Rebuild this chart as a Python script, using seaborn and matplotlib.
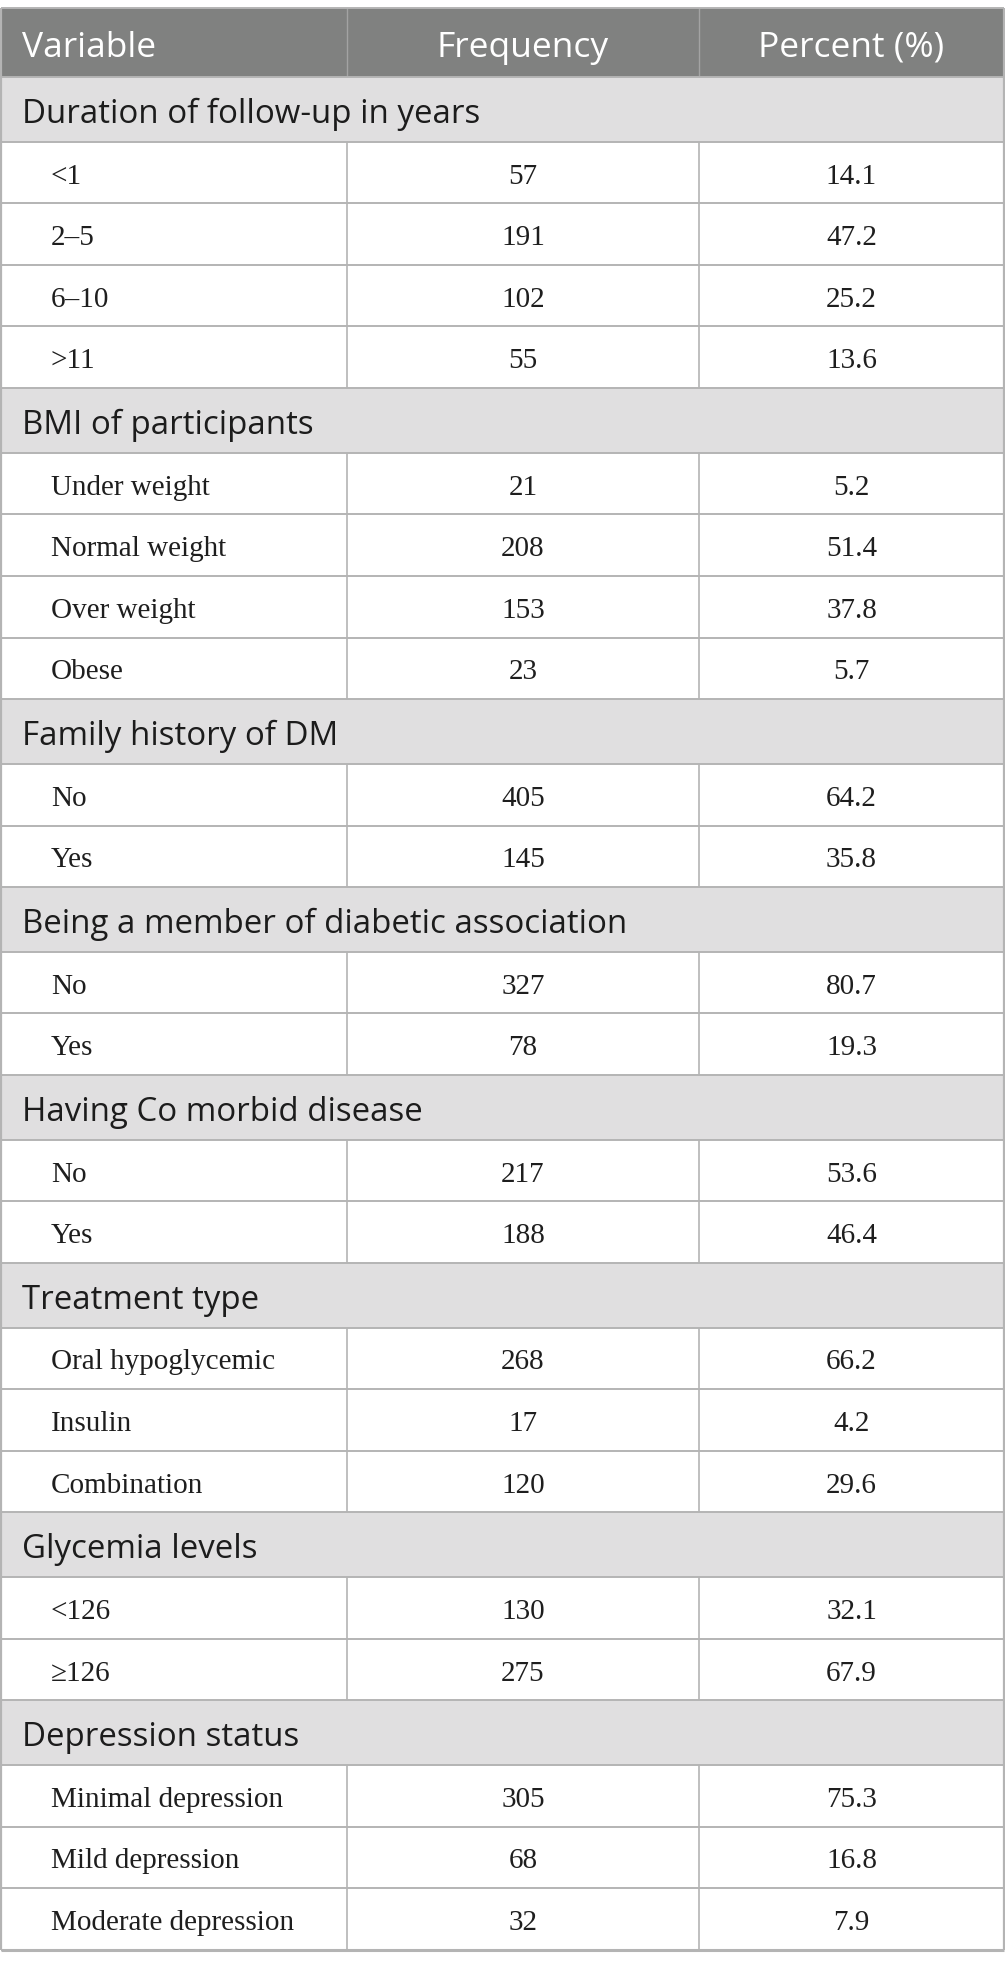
import matplotlib
matplotlib.use("Agg")
import matplotlib.pyplot as plt
import seaborn as sns
from matplotlib.patches import Rectangle

# ---------------- data ----------------
header_labels = ["Variable", "Frequency", "Percent (%)"]

group_titles = [
    "Duration of follow-up in years",
    "BMI of participants",
    "Family history of DM",
    "Being a member of diabetic association",
    "Having Co morbid disease",
    "Treatment type",
    "Glycemia levels",
    "Depression status",
]
group_categories = [
    ["<1", "2\u20135", "6\u201310", ">11"],
    ["Under weight", "Normal weight", "Over weight", "Obese"],
    ["No", "Yes"],
    ["No", "Yes"],
    ["No", "Yes"],
    ["Oral hypoglycemic", "Insulin", "Combination"],
    ["<126", "\u2265126"],
    ["Minimal depression", "Mild depression", "Moderate depression"],
]
group_frequencies = [
    [57, 191, 102, 55],
    [21, 208, 153, 23],
    [405, 145],
    [327, 78],
    [217, 188],
    [268, 17, 120],
    [130, 275],
    [305, 68, 32],
]
group_percents = [
    ["14.1", "47.2", "25.2", "13.6"],
    ["5.2", "51.4", "37.8", "5.7"],
    ["64.2", "35.8"],
    ["80.7", "19.3"],
    ["53.6", "46.4"],
    ["66.2", "4.2", "29.6"],
    ["32.1", "67.9"],
    ["75.3", "16.8", "7.9"],
]

# ---------------- layout / style ----------------
W, H = 1005, 1967
TOP = 8.0
HEADER_H = 69.0
GROUP_H = 64.7
DATA_H = 61.6
COL_X = [0.5, 347.0, 699.0, 1004.0]
HEADER_BG = "#808180"
GROUP_BG = "#e0dfe0"
LINE_C = "#b4b4b4"
HEAD_LINE_C = "#a3a3a3"
HEAD_FS = 25.5
GROUP_FS = 23.8
DATA_FS = 21.0

sns.set_theme(style="white")
plt.rcParams["font.family"] = ["Open Sans", "DejaVu Sans"]

fig = plt.figure(figsize=(W / 100, H / 100), dpi=100)
ax = fig.add_axes([0, 0, 1, 1])
ax.set_xlim(0, W)
ax.set_ylim(H, 0)
ax.axis("off")

sans = ["Open Sans", "DejaVu Sans"]
serif = ["Liberation Serif", "DejaVu Serif"]

col_centers = [(COL_X[1] + COL_X[2]) / 2, (COL_X[2] + COL_X[3]) / 2]

# header
ax.add_patch(Rectangle((COL_X[0], TOP), COL_X[3] - COL_X[0], HEADER_H,
                       facecolor=HEADER_BG, edgecolor="none", zorder=1))
hmid = TOP + HEADER_H / 2
hb = hmid + 14.5
ax.text(22, hb, header_labels[0], family=sans, fontsize=HEAD_FS,
        color="white", ha="left", va="baseline", zorder=3)
ax.text(col_centers[0], hb, header_labels[1], family=sans, fontsize=HEAD_FS,
        color="white", ha="center", va="baseline", zorder=3)
ax.text(col_centers[1], hb, header_labels[2], family=sans, fontsize=HEAD_FS,
        color="white", ha="center", va="baseline", zorder=3)
for x in COL_X[1:3]:
    ax.vlines(x, TOP, TOP + HEADER_H, color=HEAD_LINE_C, lw=1.0, zorder=2)

y = TOP + HEADER_H
hlines = [TOP, y]
for title, cats, freqs, pcts in zip(group_titles, group_categories,
                                    group_frequencies, group_percents):
    ax.add_patch(Rectangle((COL_X[0], y), COL_X[3] - COL_X[0], GROUP_H,
                           facecolor=GROUP_BG, edgecolor="none", zorder=1))
    ax.text(22, y + GROUP_H / 2 + 13.5, title, family=sans, fontsize=GROUP_FS,
            color="#1c1c1c", ha="left", va="baseline", zorder=3)
    y += GROUP_H
    hlines.append(y)
    for cat, f, p in zip(cats, freqs, pcts):
        mid = y + DATA_H / 2
        ax.text(51, mid + 11, cat, family=serif, fontsize=DATA_FS,
                color="#1e1e1e", ha="left", va="baseline", zorder=3)
        ax.text(col_centers[0], mid + 11, str(f), family=serif, fontsize=DATA_FS,
                color="#1e1e1e", ha="center", va="baseline", zorder=3)
        ax.text(col_centers[1], mid + 11, p, family=serif, fontsize=DATA_FS,
                color="#1e1e1e", ha="center", va="baseline", zorder=3)
        for x in COL_X[1:3]:
            ax.vlines(x, y, y + DATA_H, color=LINE_C, lw=1.2, zorder=2)
        y += DATA_H
        hlines.append(y)

ax.hlines(hlines[1:], COL_X[0], COL_X[3], color=LINE_C, lw=1.4, zorder=2)
ax.hlines(hlines[0], COL_X[0], COL_X[3], color=LINE_C, lw=1.4, zorder=2)
ax.hlines(hlines[-1], COL_X[0], COL_X[3], color=LINE_C, lw=2.2, zorder=2)
ax.vlines([COL_X[0], COL_X[3]], TOP, hlines[-1], color=LINE_C, lw=1.6, zorder=2)

fig.savefig("out.png", dpi=100, facecolor="white")
